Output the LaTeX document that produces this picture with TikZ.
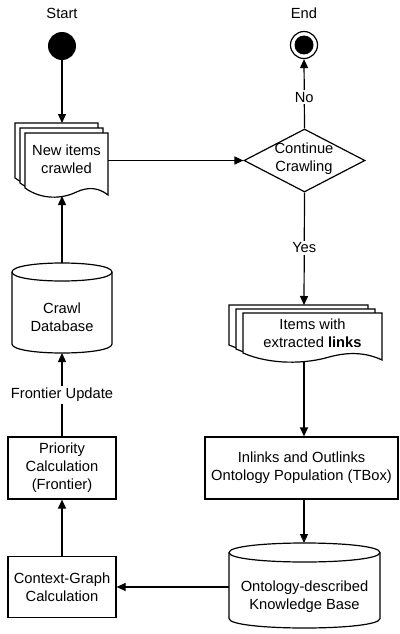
\documentclass[tikz,border=0pt]{standalone}
\usepackage{fontspec}
\setmainfont{Liberation Sans}
\usetikzlibrary{arrows.meta,shapes.geometric}

% one page of a stacked "document" symbol: top-left corner, width, height of the left side
\newcommand\docsheet[4]{%
  \filldraw[line, fill=white]
    (#1,#2) -- ({#1+#3},#2) -- ({#1+#3},{#2+#4+7})
    .. controls ({#1+0.88*#3},{#2+#4-1}) and ({#1+0.75*#3},{#2+#4-1}) .. ({#1+0.62*#3},{#2+#4+4})
    .. controls ({#1+0.45*#3},{#2+#4+11}) and ({#1+0.2*#3},{#2+#4+12}) .. (#1,{#2+#4})
    -- cycle;}

% database cylinder: centre x, top y, bottom y, width, end radius
\newcommand\dbdrum[5]{%
  \filldraw[line, fill=white]
    ({#1-#4/2},{#2+#5}) -- ({#1-#4/2},{#3-#5})
    .. controls ({#1-#4/2},{#3-#5+4*#5/3}) and ({#1+#4/2},{#3-#5+4*#5/3}) .. ({#1+#4/2},{#3-#5})
    -- ({#1+#4/2},{#2+#5})
    .. controls ({#1+#4/2},{#2+#5-4*#5/3}) and ({#1-#4/2},{#2+#5-4*#5/3}) .. ({#1-#4/2},{#2+#5})
    -- cycle;
  \draw[line] ({#1-#4/2},{#2+#5})
    .. controls ({#1-#4/2},{#2+#5+4*#5/3}) and ({#1+#4/2},{#2+#5+4*#5/3}) .. ({#1+#4/2},{#2+#5});}

\tikzset{
  every node/.style={font=\fontsize{14.7pt}{18pt}\selectfont, align=center, inner sep=0pt},
  line/.style={line width=1.2pt, draw=black},
  arr/.style={line, -{Triangle[length=9pt,width=8pt]}},
  procbox/.style={line, fill=white, rectangle},
  lbl/.style={fill=white, inner sep=2pt},
}

\begin{document}
\begin{tikzpicture}[x=1pt,y=-1pt]
\useasboundingbox (0,0) rectangle (399,634);

% start and end states
\node (startlbl) at (62,13) {Start};
\node[circle, fill=black, minimum size=28pt] (start) at (62,46) {};
\node (endlbl) at (304,13) {End};
\node[circle, line, fill=white, minimum size=27pt] (end) at (304,45) {};
\node[circle, fill=black, minimum size=19pt] (endcore) at (end) {};

% new items crawled (stack of documents)
\docsheet{15}{123}{83}{55}
\docsheet{20}{128}{83}{55}
\docsheet{25}{133}{83}{55}
\node (newdoc) at (66.5,159) {New items\\crawled};
\coordinate (newdoc-n) at (62,123);
\coordinate (newdoc-e) at (108,160.5);
\coordinate (newdoc-s) at (62,196);

% decision
\node[diamond, line, fill=white, minimum width=121pt, minimum height=63pt] (cont) at (304.5,160.5) {};
\node (conttxt) at (304,159) {Continue\\Crawling};

% items with extracted links (stack of documents)
\docsheet{229}{305}{139}{40}
\docsheet{236}{309}{139}{40}
\docsheet{243}{313}{139}{40}
\node (items) at (312.5,333) {Items with\\extracted \textbf{links}};
\coordinate (items-n) at (304,305);
\coordinate (items-s) at (304,361);

% population step
\node[procbox, minimum width=193pt, minimum height=62pt] (inl) at (301.5,468)
  {Inlinks and Outlinks\\Ontology Population (TBox)};

% knowledge base
\dbdrum{304.5}{543}{628}{151}{9.5}
\node (kb) at (304.5,597) {Ontology-described\\Knowledge Base};
\coordinate (kb-n) at (304,543);
\coordinate (kb-w) at (229,587);

% left column
\node[procbox, minimum width=108pt, minimum height=61pt] (ctx) at (62,587) {Context-Graph\\Calculation};
\node[procbox, minimum width=108pt, minimum height=62pt] (prio) at (62,468) {Priority\\Calculation\\(Frontier)};

\dbdrum{62}{263}{353}{100}{9}
\node (crawldb) at (62,317) {Crawl\\Database};
\coordinate (crawldb-n) at (62,263);
\coordinate (crawldb-s) at (62,353);

% connectors
\draw[arr] (start) -- (newdoc-n);
\draw[arr] (newdoc-e) -- (cont.west);
\draw[arr] (cont.north) -- node[lbl, pos=0.45] (nolbl) {No} (end.south);
\draw[arr] (cont.south) -- node[lbl, pos=0.49] (yeslbl) {Yes} (items-n);
\draw[arr] (items-s) -- (items-s |- inl.north);
\draw[arr] (kb-n |- inl.south) -- (kb-n);
\draw[arr] (kb-w) -- (ctx.east);
\draw[arr] (ctx.north) -- (prio.south);
\draw[arr] (prio.north) -- node[lbl] (fulbl) {Frontier Update} (crawldb-s);
\draw[arr] (crawldb-n) -- (newdoc-s);
\end{tikzpicture}
\end{document}
